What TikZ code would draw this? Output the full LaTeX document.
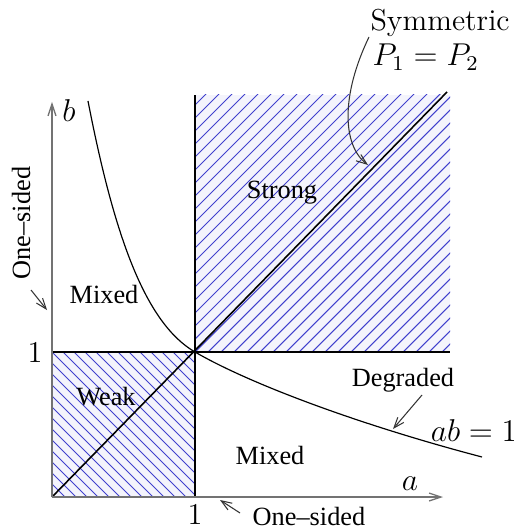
\documentclass[tikz,border=0pt]{standalone}
\usepackage{fontspec}
\newfontfamily\timesf[Ligatures=TeX]{Liberation Serif}
\usetikzlibrary{arrows.meta}
\definecolor{hatch}{RGB}{65,65,205}
\definecolor{hatchbg}{RGB}{244,244,252}
\tikzset{
  lbl/.style={font=\timesf\fontsize{10}{12}\selectfont, inner sep=0pt},
  cmlbl/.style={font=\fontsize{11.5}{14}\selectfont, inner sep=0pt},
  axis/.style={draw=black!55, line width=0.5pt, -{Straight Barb[length=4.5pt,width=3pt]}},
  ptr/.style={draw=black!80, line width=0.4pt, -{Straight Barb[length=4pt,width=3pt]}},
  hatchline/.style={draw=hatch, line width=0.4pt},
  bound/.style={draw=black, line width=0.6pt},
  thincurve/.style={draw=black, line width=0.45pt},
}
\begin{document}
\begin{tikzpicture}[x=0.38pt,y=-0.38pt]
\useasboundingbox (0,0) rectangle (514,529);
% key points
\coordinate (O) at (52,497);
\coordinate (ytop) at (52,102);
\coordinate (xend) at (443,497);
\coordinate (P11) at (195,352);
\coordinate (vtop) at (195,95);
\coordinate (hright) at (450,352);
\coordinate (dend) at (447,92);
\coordinate (ytick) at (52,352);
\coordinate (xtick) at (195,497);
% hatching: strong
\fill[hatchbg] (195,95) rectangle (450,352);
\begin{scope}
  \clip (195,95) rectangle (450,352);
  \foreach \i in {-273,-260,...,273} \draw[hatchline] ({195+\i},352) -- ++(300,-300);
\end{scope}
% hatching: weak
\fill[hatchbg] (52,352) rectangle (195,497);
\begin{scope}
  \clip (52,352) rectangle (195,497);
  \foreach \i in {-154,-143,...,154} \draw[hatchline] ({52+\i},352) -- ++(160,160);
\end{scope}
% boundaries
\draw[bound] (xtick) -- (vtop);
\draw[bound] (ytick) -- (hright);
\draw[bound] (O) -- (dend);
% axes
\draw[axis] (O) -- (ytop);
\draw[axis] (O) -- (xend);
% curve ab=1
\draw[thincurve] (88,101) .. controls (114,235) and (145,323) .. (P11)
  .. controls (250,384) and (360,425) .. (482,457);
% labels
\node[cmlbl] (b) at (69,111) {$b$};
\node[cmlbl] (a) at (410,484) {$a$};
\node[cmlbl] (one1) at (35,352) {1};
\node[cmlbl] (one2) at (195,514) {1};
\node[lbl] (strong) at (282,193) {Strong};
\node[lbl] (weak) at (106,397) {Weak};
\node[lbl] (mixedL) at (104,294) {Mixed};
\node[lbl] (mixedB) at (270,455) {Mixed};
\node[lbl] (degr) at (403,380) {Degraded};
\node[cmlbl] (ab) at (474,431) {$ab=1$};
\node[cmlbl,anchor=base west] (sym) at (370,31) {Symmetric};
\node[cmlbl,anchor=base west] (p12) at (372,66) {$P_1=P_2$};
\node[lbl,rotate=90] (osL) at (21,223) {One–sided};
\node[lbl] (osB) at (309,516) {One–sided};
% pointers
\coordinate (symS) at (369,37);
\coordinate (symE) at (368,165);
\draw[ptr] (symS) .. controls (341,95) and (342,145) .. (symE);
\coordinate (degS) at (422,395);
\coordinate (degE) at (393,429);
\draw[ptr] (degS) -- (degE);
\coordinate (osLS) at (31,290);
\coordinate (osLE) at (47,310);
\draw[ptr] (osLS) -- (osLE);
\coordinate (osBS) at (240,513);
\coordinate (osBE) at (220,500);
\draw[ptr] (osBS) -- (osBE);
\end{tikzpicture}
\end{document}
